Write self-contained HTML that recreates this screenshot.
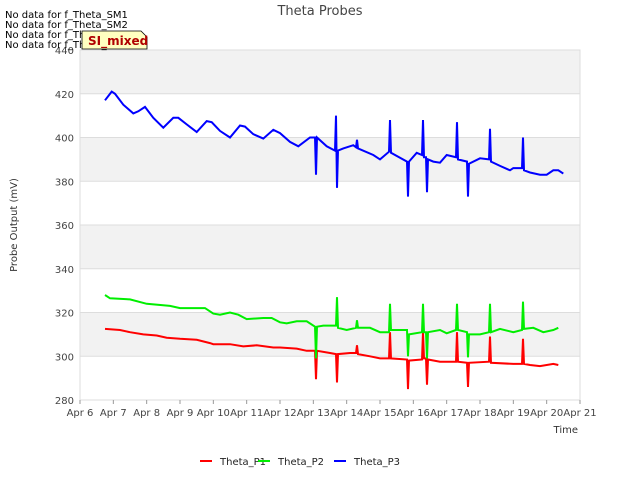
<!DOCTYPE html>
<html><head><meta charset="utf-8"><style>
body{margin:0;background:#fff;font-family:"DejaVu Sans","Liberation Sans",sans-serif;}
svg text{font-family:"DejaVu Sans","Liberation Sans",sans-serif;}
</style></head><body>
<svg id="c" width="640" height="480" xmlns="http://www.w3.org/2000/svg">
<text x="320" y="15" text-anchor="middle" font-size="13" fill="#444">Theta Probes</text>
<g id="bands"></g><g id="grid"></g><g id="series"></g><g id="axes"></g>
<text x="578" y="433" text-anchor="end" font-size="10" fill="#333">Time</text>
<text transform="translate(17,225) rotate(-90)" text-anchor="middle" font-size="10" fill="#333">Probe Output (mV)</text>
<g font-size="10" fill="#000">
<text x="5" y="18">No data for f_Theta_SM1</text>
<text x="5" y="28">No data for f_Theta_SM2</text>
<text x="5" y="38">No data for f_Theta_SM3</text>
<text x="5" y="48">No data for f_Theta_SM4</text>
</g>
<g>
<path d="M82,31 L141,31 L147,37 L147,49 L82,49 Z" fill="#ffffc0" stroke="#000" stroke-width="0.8"/>
<text x="88" y="45" font-size="12" font-weight="bold" fill="#b00000">SI_mixed</text>
</g>
<g id="legend"></g>
</svg>
<script>
const xTickLabels=["Apr 6","Apr 7","Apr 8","Apr 9","Apr 10","Apr 11","Apr 12","Apr 13","Apr 14","Apr 15","Apr 16","Apr 17","Apr 18","Apr 19","Apr 20","Apr 21"];
const yTicks=[280,300,320,340,360,380,400,420,440];
const seriesNames=["Theta_P1","Theta_P2","Theta_P3"];
const seriesColors=["#ff0000","#00ee00","#0000ff"];
const p1T=[0.75,1.2,1.5,1.9,2.3,2.6,3.0,3.5,3.9,4.0,4.5,4.9,5.3,5.8,6.0,6.5,6.8,7.05,7.08,7.11,7.5,7.68,7.71,7.74,8.1,8.28,8.31,8.34,8.7,9.0,9.27,9.3,9.33,9.81,9.84,9.87,10.26,10.29,10.32,10.38,10.41,10.44,10.8,11.28,11.31,11.34,11.61,11.64,11.67,12.27,12.3,12.33,13.0,13.26,13.29,13.32,13.5,13.8,14.2,14.35];
const p1V=[312.5,312,311,310,309.5,308.5,308,307.5,306,305.5,305.5,304.5,305,304,304,303.5,302.5,302.5,289.5,302.5,301.5,301,288,301,301.5,301.5,305,301,300,299,299,311,299,298.5,285,298,298.5,311,299,299,287,298.5,297.5,297.5,311,297.5,297,286,297,297.5,309,297,296.5,296.5,308,296.5,296,295.5,296.5,296];
const p2T=[0.75,0.9,1.5,2.0,2.7,3.0,3.75,4.0,4.2,4.5,4.75,5.0,5.5,5.75,6.0,6.2,6.5,6.8,7.05,7.08,7.11,7.3,7.68,7.71,7.74,8.0,8.28,8.31,8.34,8.7,9.0,9.27,9.3,9.33,9.81,9.84,9.87,10.26,10.29,10.32,10.38,10.41,10.44,10.8,11.0,11.28,11.31,11.34,11.61,11.64,11.67,12.0,12.27,12.3,12.33,12.6,13.0,13.26,13.29,13.32,13.6,13.9,14.2,14.35];
const p2V=[328,326.5,326,324,323,322,322,319.5,319,320,319,317,317.5,317.5,315.5,315,316,316,313.5,299,313.5,314,314,327,313,312,313,316.5,313,313,311,311,324,312,312,300,310,311,324,311,311,299,311,312,310.5,312,324,312,311,299.5,310,310,311,324,311,312.5,311,312,325,312.5,313,311,312,313];
const p3T=[0.75,0.95,1.05,1.3,1.6,1.75,1.95,2.2,2.5,2.8,2.95,3.2,3.5,3.8,3.95,4.2,4.5,4.8,4.95,5.2,5.5,5.8,6.0,6.3,6.55,6.9,7.05,7.08,7.11,7.4,7.65,7.68,7.71,7.74,7.9,8.2,8.28,8.31,8.34,8.8,9.0,9.27,9.3,9.33,9.81,9.84,9.87,10.1,10.26,10.29,10.32,10.38,10.41,10.44,10.6,10.8,11.0,11.28,11.31,11.34,11.61,11.64,11.67,12.0,12.27,12.3,12.33,12.6,12.9,13.0,13.26,13.29,13.32,13.5,13.8,14.0,14.2,14.35,14.5];
const p3V=[417,421,420,415,411,412,414,409,404.5,409,409,406,402.5,407.5,407,403,400,405.5,405,401.5,399.5,403.5,402,398,396,400,400,383,400,396,394,410,377,394,395,396.5,395.5,399,395,392,390,393.5,408,393,389,373,389,393,392,408,391,391,375,390,389,388.5,392,391,407,390,389,373,388,390.5,390,404,389,387,385,386,386,400,385,384,383,383,385,385,383.5];
const seriesT=[p1T,p2T,p3T], seriesV=[p1V,p2V,p3V];
const NS="http://www.w3.org/2000/svg";
const L=80,R=580,T=50,B=400,x0=0,x1=15,y0=280,y1=440;
const xs=d=>L+(d-x0)/(x1-x0)*(R-L);
const ys=v=>B-(v-y0)/(y1-y0)*(B-T);
function mk(tag,attrs,parent){const e=document.createElementNS(NS,tag);for(const k in attrs)e.setAttribute(k,attrs[k]);parent.appendChild(e);return e;}
const bands=document.getElementById('bands'),grid=document.getElementById('grid'),axes=document.getElementById('axes'),ser=document.getElementById('series'),leg=document.getElementById('legend');
for(let i=0;i<yTicks.length-1;i++){
  const r=mk('rect',{x:L,y:ys(yTicks[i+1]),width:R-L,height:ys(yTicks[i])-ys(yTicks[i+1]),fill:(i%2===1)?'#f2f2f2':'#ffffff'},bands);
  
  
}
yTicks.forEach(v=>{
  const g=mk('line',{x1:L,x2:R,y1:ys(v),y2:ys(v),stroke:'#dddddd','stroke-width':1},grid);
  
  
  const t=mk('text',{x:L-6,y:ys(v)+4,'text-anchor':'end','font-size':10,fill:'#444'},axes);
  t.textContent=v;
  
  
});
const fr=mk('rect',{x:L,y:T,width:R-L,height:B-T,fill:'none',stroke:'#dddddd'},axes);


xTickLabels.forEach((s,i)=>{
  const tk=mk('line',{x1:xs(i),x2:xs(i),y1:B,y2:B+4,stroke:'#999'},axes);
  
  
  const t=mk('text',{x:xs(i),y:B+16,'text-anchor':'middle','font-size':10,fill:'#444'},axes);
  t.textContent=s;
  
  
});
seriesNames.forEach((n,si)=>{
  const pts=seriesT[si].map((t,i)=>xs(t).toFixed(1)+','+ys(seriesV[si][i]).toFixed(1)).join(' ');
  const pl=mk('polyline',{points:pts,fill:'none',stroke:seriesColors[si],'stroke-width':2},ser);
  
  
  const lx=[200,258,334][si];
  const g=mk('g',{},leg);
  
  
  mk('line',{x1:lx,x2:lx+12,y1:461,y2:461,stroke:seriesColors[si],'stroke-width':2},g);
  const t=mk('text',{x:lx+20,y:465,'font-size':10,fill:'#222'},g);
  t.textContent=n;
});
</script>
</body></html>
